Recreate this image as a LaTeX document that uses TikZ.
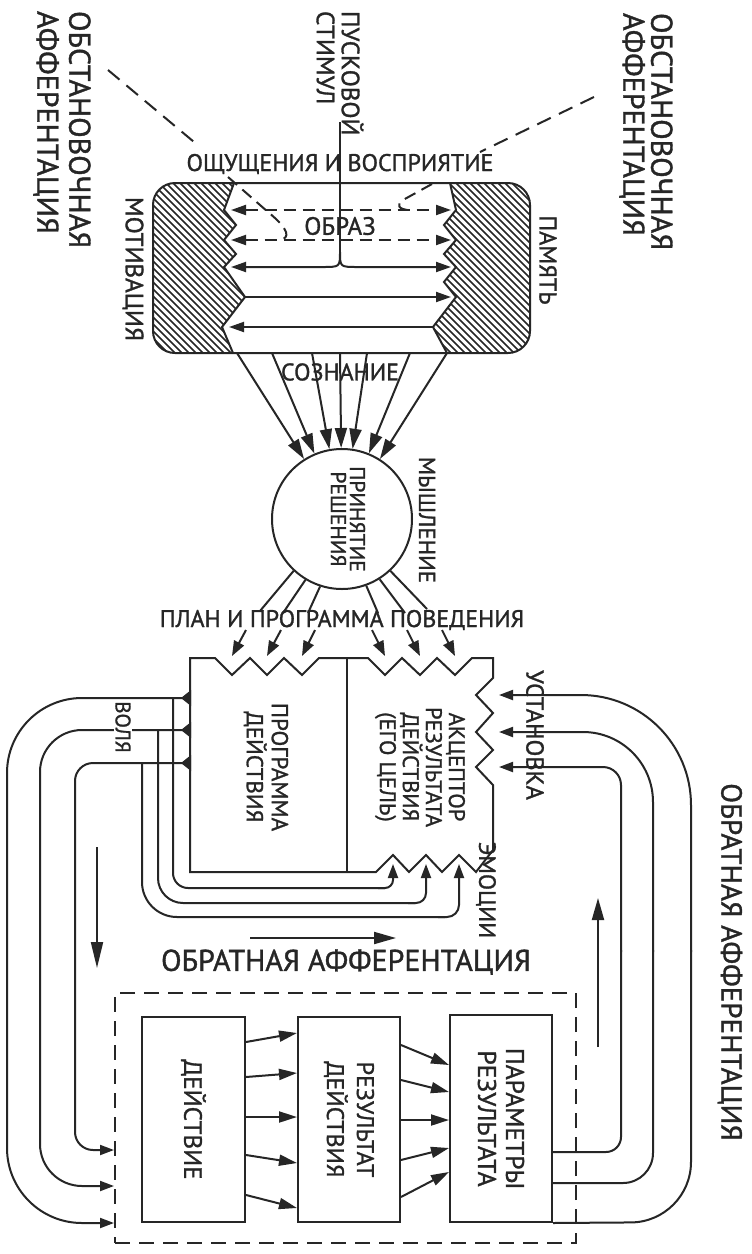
\documentclass[tikz,border=0pt]{standalone}
\usepackage{fontspec}
\setmainfont{PT Sans}[BoldFont={PT Sans},BoldFeatures={FakeBold=1.2}]
\usetikzlibrary{arrows.meta}
\newcommand\fsz[2]{\fontsize{#1}{#2}\selectfont\bfseries}
\begin{document}
\begin{tikzpicture}[x=1pt,y=-1pt,line width=2pt,color=black!85,
  tipX/.style={-{Triangle[length=20pt,width=12pt]}},
  tipL/.style={-{Triangle[length=18pt,width=11pt]}},
  tipM/.style={-{Triangle[length=15pt,width=11pt]}},
  tipS/.style={-{Triangle[length=14pt,width=10pt]}},
  rtip/.style={-{Triangle[length=15pt,width=10pt]}},
  dtip/.style={{Triangle[length=15pt,width=10pt]}-{Triangle[length=15pt,width=10pt]}},
  lbl/.style={inner sep=0pt},
  rlbl/.style={lbl,rotate=-90},
  dsh/.style={dash pattern=on 12pt off 7pt},
  dsh2/.style={dash pattern=on 15pt off 9pt},
  dbox/.style={dash pattern=on 15pt off 9pt},
  hatchline/.style={line width=1.5pt},
  box/.style={draw,inner sep=0pt,minimum width=103pt,minimum height=205pt}
]
\fill[white] (0,0) rectangle (752,1254);
\useasboundingbox (0,0) rectangle (752,1254);

% ---------- top labels ----------
\node[rlbl,anchor=west,align=left,font=\fsz{30}{32}] (oaL) at (62,10) {ОБСТАНОВОЧНАЯ\\АФФЕРЕНТАЦИЯ};
\node[rlbl,anchor=west,align=left,font=\fsz{30}{28}] (oaR) at (646,12) {ОБСТАНОВОЧНАЯ\\АФФЕРЕНТАЦИЯ};
\node[rlbl,anchor=west,align=left,font=\fsz{25}{25}] (pusk) at (340,10) {ПУСКОВОЙ\\СТИМУЛ};

% ---------- hatched rounded block ----------
\begin{scope}
\clip[rounded corners=22pt] (153,183) rectangle (530,353);
\begin{scope}
\clip (0,183) -- (234,183) -- (224,210) -- (236,225) -- (224,240) -- (236,254) -- (224,267) -- (245,297) -- (222,327) -- (233,353) -- (0,353) -- cycle;
\foreach \i in {-40,-33,...,250} \draw[hatchline] (\i,180) -- ++(180,180);
\end{scope}
\begin{scope}
\clip (752,183) -- (450,183) -- (456,210) -- (444,225) -- (456,240) -- (444,254) -- (456,267) -- (444,282) -- (456,297) -- (433,327) -- (447,353) -- (752,353) -- cycle;
\foreach \i in {250,257,...,540} \draw[hatchline] (\i,180) -- ++(180,180);
\end{scope}
\end{scope}
\draw (234,183) -- (224,210) -- (236,225) -- (224,240) -- (236,254) -- (224,267) -- (245,297) -- (222,327) -- (233,353);
\draw (450,183) -- (456,210) -- (444,225) -- (456,240) -- (444,254) -- (456,267) -- (444,282) -- (456,297) -- (433,327) -- (447,353);
\draw[rounded corners=22pt] (153,183) rectangle (530,353);

% arrows inside
\draw[dsh,dtip] (231,210) -- (451,210);
\draw[dsh,dtip] (231,240) -- (451,240);
\draw[dtip] (231,267) -- (322,267) .. controls (340,267) .. (340,252) .. controls (340,267) .. (358,267) -- (451,267);
\draw[rtip] (245,297) -- (451,297);
\draw[rtip] (433,327) -- (229,327);

% pusk stimulus line
\coordinate (pk) at (340,122);
\draw (pk) -- (340,253);

% obstanovochnaya afferentation dashed
\draw[dsh2] (108,70) -- (200,147);
\draw[dsh] (228,177) -- (268,212) .. controls (290,230) and (290,238) .. (280,240);
\draw[dsh2] (594,97) -- (480,152);
\draw[dsh] (432,184) -- (403,200) .. controls (396,204) and (398,210) .. (410,210);

\node[lbl,font=\fsz{24}{24}] (osch) at (340,164) {ОЩУЩЕНИЯ И ВОСПРИЯТИЕ};
\node[lbl,font=\fsz{25}{25}] (obraz) at (340,226) {ОБРАЗ};
\node[rlbl,font=\fsz{25}{25}] (motiv) at (133,269) {МОТИВАЦИЯ};
\node[rlbl,font=\fsz{24}{24}] (pam) at (548,260) {ПАМЯТЬ};
\node[lbl,font=\fsz{24}{24}] (sozn) at (340,372) {СОЗНАНИЕ};

% ---------- decision circle ----------
\node[draw,circle,minimum size=140pt,inner sep=0pt] (c) at (342,519) {};
\node[rlbl,align=center,font=\fsz{21.5}{19}] (prin) at (348,519) {ПРИНЯТИЕ\\РЕШЕНИЯ};
\node[rlbl,font=\fsz{23}{23}] (mysh) at (427,520) {МЫШЛЕНИЕ};
\foreach \x in {237,272,312,340,367,410,447} \draw[tipX] (\x,353) -- (c);

% diverging lines
\draw (c.227.8) -- (260,611);
\draw (c.239.6) -- (283,613);
\draw (c.252) -- (308,613);
\draw (c.290.6) -- (378,613);
\draw (c.302.6) -- (405,613);
\draw (c.313.5) -- (427,609);
\node[lbl,font=\fsz{24}{24}] (plan) at (342,620) {ПЛАН И ПРОГРАММА ПОВЕДЕНИЯ};
\foreach \a/\b in {246/232,281/267,315/302} \draw[tipM] (\a,630) -- (\b,656);
\foreach \a/\b in {372/385,407/420,442/455} \draw[tipM] (\a,630) -- (\b,656);

% ---------- programme / acceptor block ----------
\draw (190,658) -- (215,658) -- (232,675) -- (250,658) -- (267,675) -- (284,658) -- (302,675) -- (319,658) -- (368,658) -- (385,675) -- (402,658) -- (420,675) -- (437,658) -- (455,675) -- (472,658) -- (493,658) -- (493,678) -- (476,695) -- (493,713) -- (476,732) -- (493,750) -- (476,767) -- (493,785) -- (493,850) -- (476,872) -- (459,855) -- (442,872) -- (426,855) -- (409,872) -- (393,855) -- (376,872) -- (190,872) -- cycle;
\draw (347,658) -- (347,872);
\node[rlbl,align=center,font=\fsz{23}{25}] (prog) at (266,767) {ПРОГРАММА\\ДЕЙСТВИЯ};
\node[rlbl,align=center,font=\fsz{22.5}{23}] (akc) at (420,767) {АКЦЕПТОР\\РЕЗУЛЬТАТА\\ДЕЙСТВИЯ\\(ЕГО ЦЕЛЬ)};
\node[rlbl,font=\fsz{24.5}{24}] (ustan) at (535,735) {УСТАНОВКА};
\node[rlbl,font=\fsz{23.5}{23}] (emoc) at (486,890) {ЭМОЦИИ};

% ---------- lower boxes ----------
\node[draw,dbox,inner sep=0pt,minimum width=461pt,minimum height=250pt] (db) at (345.5,1118) {};
\node[box] (d) at (193.5,1119.5) {};
\node[box,minimum width=102pt] (r) at (349,1119.5) {};
\node[box,minimum width=102pt,minimum height=207pt] (p) at (501,1118.5) {};
\node[rlbl,font=\fsz{25}{25}] at (d.center) {ДЕЙСТВИЕ};
\node[rlbl,align=center,font=\fsz{24}{30}] at (r.center) {РЕЗУЛЬТАТ\\ДЕЙСТВИЯ};
\node[rlbl,align=center,font=\fsz{25.5}{28}] at (p.center) {ПАРАМЕТРЫ\\РЕЗУЛЬТАТА};

\foreach \a/\b in {1042/1033,1077/1073,1117/1117,1155/1163,1195/1208}
  \draw[tipL] (d.east |- 0,\a) -- (r.west |- 0,\b);
\foreach \a/\b in {1045/1065,1080/1092,1120/1120,1160/1148,1197/1172}
  \draw[tipL] (r.east |- 0,\a) -- (p.west |- 0,\b);

% ---------- left loops (volya) ----------
\draw[tipS,rounded corners=75pt] (190,698) -- (7,698) -- (7,1223) -- (db.west |- 0,1223);
\draw[tipS,rounded corners=42pt] (190,730) -- (40,730) -- (40,1186) -- (db.west |- 0,1186);
\draw[tipS,rounded corners=18pt] (190,763) -- (75,763) -- (75,1150) -- (db.west |- 0,1150);
\foreach \y in {698,730,763} \fill (191,\y-8) -- (191,\y+8) -- (181,\y) -- cycle;
\node[rlbl,font=\fsz{21}{21},fill=white,inner sep=1pt] (volya) at (123,727) {ВОЛЯ};

% emotion lines
\draw[rounded corners=15pt] (173,698) -- (173,888) -- (385,888);
\draw[tipS,rounded corners=8pt] (378,888) -- (393,888) -- (393,864);
\draw[rounded corners=25pt] (158,730) -- (158,903) -- (415,903);
\draw[tipS,rounded corners=10pt] (408,903) -- (426,903) -- (426,864);
\draw[rounded corners=35pt] (142,763) -- (142,917) -- (445,917);
\draw[tipS,rounded corners=12pt] (438,917) -- (459,917) -- (459,864);

% ---------- right loops (feedback) ----------
\draw[rounded corners=15pt] (p.east |- 0,1152) -- (621,1152) -- (621,950);
\draw[tipS,rounded corners=18pt] (621,952) -- (621,767) -- (499,767);
\draw[rounded corners=30pt] (p.east |- 0,1183) -- (653,1183) -- (653,950);
\draw[tipS,rounded corners=70pt] (653,952) -- (653,732) -- (499,732);
\draw[rounded corners=60pt] (p.south east) -- (691,1222) -- (691,950);
\draw[tipS,rounded corners=110pt] (691,952) -- (691,695) -- (499,695);

% free arrows
\coordinate (a1s) at (97,847); \coordinate (a1e) at (97,968);
\draw[-{Triangle[length=26pt,width=12pt]}] (a1s) -- (a1e);
\coordinate (a2s) at (250,938); \coordinate (a2e) at (396,938);
\draw[-{Triangle[length=22pt,width=12pt]}] (a2s) -- (a2e);
\coordinate (a3s) at (598,1047); \coordinate (a3e) at (598,898);
\draw[-{Triangle[length=22pt,width=12pt]}] (a3s) -- (a3e);

\node[lbl,font=\fsz{30}{30}] (oaf) at (346,962) {ОБРАТНАЯ АФФЕРЕНТАЦИЯ};
\node[rlbl,font=\fsz{29}{29}] (oafv) at (730,962) {ОБРАТНАЯ АФФЕРЕНТАЦИЯ};
\end{tikzpicture}
\end{document}
